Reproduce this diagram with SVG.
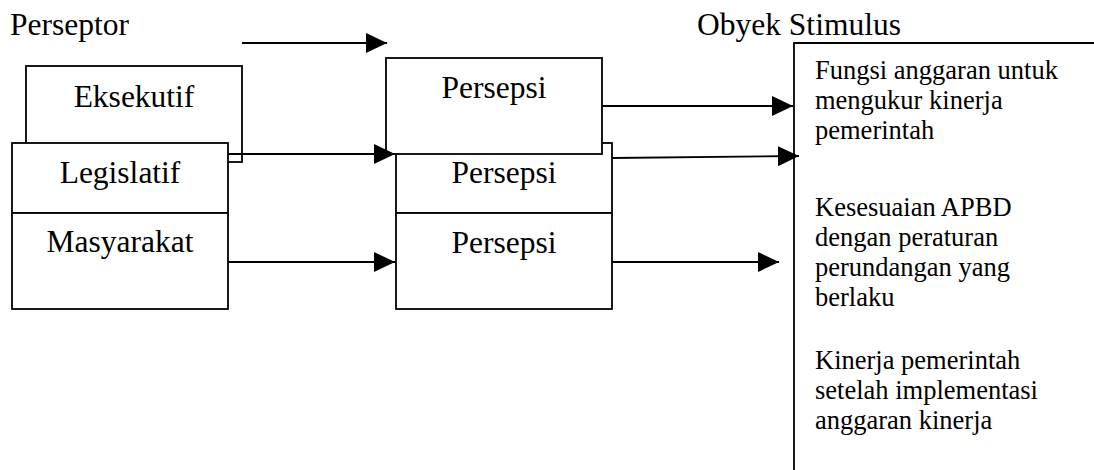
<svg xmlns="http://www.w3.org/2000/svg" width="1094" height="470" viewBox="0 0 1094 470">
<style>
.lbl{font-family:'Liberation Serif','Times New Roman',serif;font-size:31.5px;fill:#000}
.obj{font-family:'Liberation Serif','Times New Roman',serif;font-size:26.5px;fill:#000}
.box{fill:#fff;stroke:#000;stroke-width:1.8}
.con{stroke:#000;stroke-width:1.8;fill:none;marker-end:url(#ah)}
</style>
<defs>
<marker id="ah" markerUnits="userSpaceOnUse" markerWidth="21" markerHeight="20" refX="21" refY="10" orient="auto" viewBox="0 0 21 20">
<path d="M0,0 L21,10 L0,20 z" fill="#000"/>
</marker>
</defs>
<rect width="1094" height="470" fill="#fff"/>
<g font-family="Liberation Serif, Times New Roman, serif">
<g id="title-perseptor"><text class="lbl" x="10" y="35">Perseptor</text></g>
<g id="title-obyek"><text class="lbl" x="697" y="35">Obyek Stimulus</text></g>

<g id="eksekutif"><rect class="box" x="26" y="66" width="216" height="96"/><text class="lbl" x="134" y="107" text-anchor="middle">Eksekutif</text></g>
<g id="legislatif"><rect class="box" x="12" y="143" width="216" height="70"/><text class="lbl" x="120" y="183" text-anchor="middle">Legislatif</text></g>
<g id="masyarakat"><rect class="box" x="12" y="213" width="216" height="96"/><text class="lbl" x="120" y="252" text-anchor="middle">Masyarakat</text></g>

<g id="persepsi2"><rect class="box" x="396" y="143" width="216" height="70"/><text class="lbl" x="504" y="183" text-anchor="middle">Persepsi</text></g>
<g id="persepsi3"><rect class="box" x="396" y="213" width="216" height="96"/><text class="lbl" x="504" y="253" text-anchor="middle">Persepsi</text></g>
<g id="persepsi1"><rect class="box" x="386" y="58" width="216" height="96"/><text class="lbl" x="494" y="98" text-anchor="middle">Persepsi</text></g>

<g id="obyek-stimulus">
<path d="M794,470 V43 H1094" fill="none" stroke="#000" stroke-width="1.8"/>
<text class="obj"><tspan x="815" y="79">Fungsi anggaran untuk</tspan><tspan x="815" y="109">mengukur kinerja</tspan><tspan x="815" y="139">pemerintah</tspan></text>
<text class="obj"><tspan x="815" y="216">Kesesuaian APBD</tspan><tspan x="815" y="246">dengan peraturan</tspan><tspan x="815" y="276">perundangan yang</tspan><tspan x="815" y="306">berlaku</tspan></text>
<text class="obj"><tspan x="815" y="369">Kinerja pemerintah</tspan><tspan x="815" y="399">setelah implementasi</tspan><tspan x="815" y="429">anggaran kinerja</tspan></text>
</g>
</g>

<g id="connectors">
<line class="con" x1="242" y1="43" x2="387" y2="43"/>
<line class="con" x1="228" y1="154" x2="395" y2="154"/>
<line class="con" x1="228" y1="262" x2="395" y2="262"/>
<line class="con" x1="602" y1="106" x2="793" y2="106"/>
<line class="con" x1="612" y1="158" x2="799" y2="156"/>
<line class="con" x1="612" y1="262" x2="779" y2="262"/>
</g>
</svg>
